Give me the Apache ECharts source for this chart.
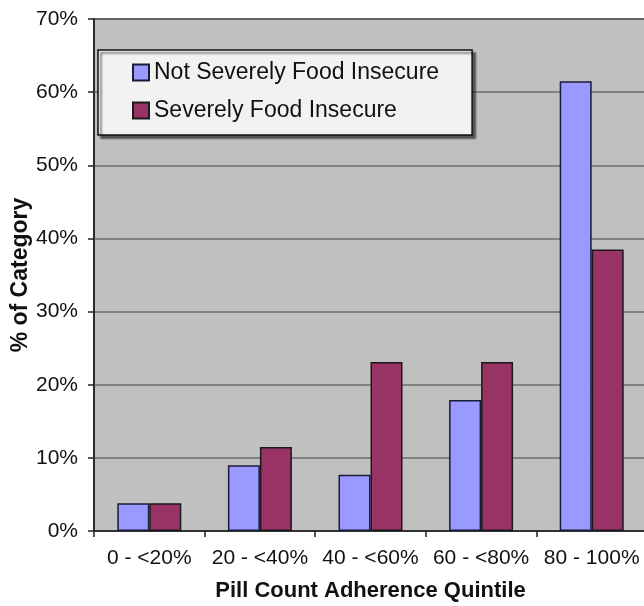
<!DOCTYPE html>
<html>
<head>
<meta charset="utf-8">
<script src="https://cdn.jsdelivr.net/npm/echarts@6/dist/echarts.min.js"></script>
<style>
  html, body { margin: 0; padding: 0; background: #ffffff; }
  #chart { width: 644px; height: 606px; }
</style>
</head>
<body>
<div id="chart"></div>
<script>
// Adherence quintiles and the share of each food-security group in each one (%)
var categories = ['0 - <20%', '20 - <40%', '40 - <60%', '60 - <80%', '80 - 100%'];
var seriesNames = ['Not Severely Food Insecure', 'Severely Food Insecure'];
var notSevere = [3.8, 9.0, 7.7, 17.9, 61.5];
var severe = [3.8, 11.5, 23.1, 23.1, 38.5];
var yTicks = [0, 10, 20, 30, 40, 50, 60, 70];

var FONT = '"Liberation Sans", Arial, Helvetica, sans-serif';

var chart = echarts.init(document.getElementById('chart'), null, { renderer: 'canvas' });

chart.setOption({
  animation: false,
  textStyle: { fontFamily: FONT },
  grid: {
    left: 94,
    top: 19,
    width: 553,
    height: 512,
    containLabel: false,
    outerBoundsMode: 'none',
    show: true,
    backgroundColor: '#c0c0c0',
    borderColor: '#4a4a4a',
    borderWidth: 2
  },
  legend: {
    orient: 'vertical',
    left: 98,
    top: 50,
    data: seriesNames,
    icon: 'rect',
    itemWidth: 16,
    itemHeight: 16,
    itemGap: 15,
    padding: [11, 33, 13, 34],
    backgroundColor: '#f2f2f2',
    borderColor: '#111111',
    borderWidth: 1.5,
    shadowColor: 'rgba(0,0,0,0.55)',
    shadowBlur: 2,
    shadowOffsetX: 3,
    shadowOffsetY: 3,
    textStyle: { fontFamily: FONT, fontSize: 23, color: '#111111', lineHeight: 22 }
  },
  xAxis: {
    type: 'category',
    data: categories,
    boundaryGap: true,
    name: 'Pill Count Adherence Quintile',
    nameLocation: 'middle',
    nameGap: 49,
    nameTextStyle: { fontFamily: FONT, fontSize: 22, fontWeight: 'bold', color: '#111111' },
    axisLine: { show: true, lineStyle: { color: '#222222', width: 1.5 } },
    axisTick: { show: true, length: 6, alignWithLabel: false, lineStyle: { color: '#222222', width: 1.5 } },
    axisLabel: { margin: 17, fontFamily: FONT, fontSize: 21, color: '#111111', interval: 0 },
    splitLine: { show: false }
  },
  yAxis: {
    type: 'value',
    min: yTicks[0],
    max: yTicks[yTicks.length - 1],
    interval: 10,
    name: '% of Category',
    nameLocation: 'middle',
    nameGap: 62,
    nameMoveOverlap: false,
    nameRotate: 90,
    nameTextStyle: { fontFamily: FONT, fontSize: 23, fontWeight: 'bold', color: '#111111' },
    axisLine: { show: true, lineStyle: { color: '#222222', width: 1.5 } },
    axisTick: { show: true, length: 6, inside: false, lineStyle: { color: '#222222', width: 1.5 } },
    axisLabel: {
      margin: 16,
      fontFamily: FONT,
      fontSize: 21,
      color: '#111111',
      formatter: function (v) { return v + '%'; }
    },
    splitLine: { show: true, lineStyle: { color: '#6e6e6e', width: 1.5 } }
  },
  series: [
    {
      name: seriesNames[0],
      type: 'bar',
      data: notSevere,
      barWidth: 32,
      barGap: '0%',
      itemStyle: { color: '#9999ff', borderColor: '#1a1a3a', borderWidth: 1.5 }
    },
    {
      name: seriesNames[1],
      type: 'bar',
      data: severe,
      barWidth: 32,
      barGap: '0%',
      itemStyle: { color: '#993366', borderColor: '#1a1a1a', borderWidth: 1.5 }
    }
  ]
});
</script>
</body>
</html>
